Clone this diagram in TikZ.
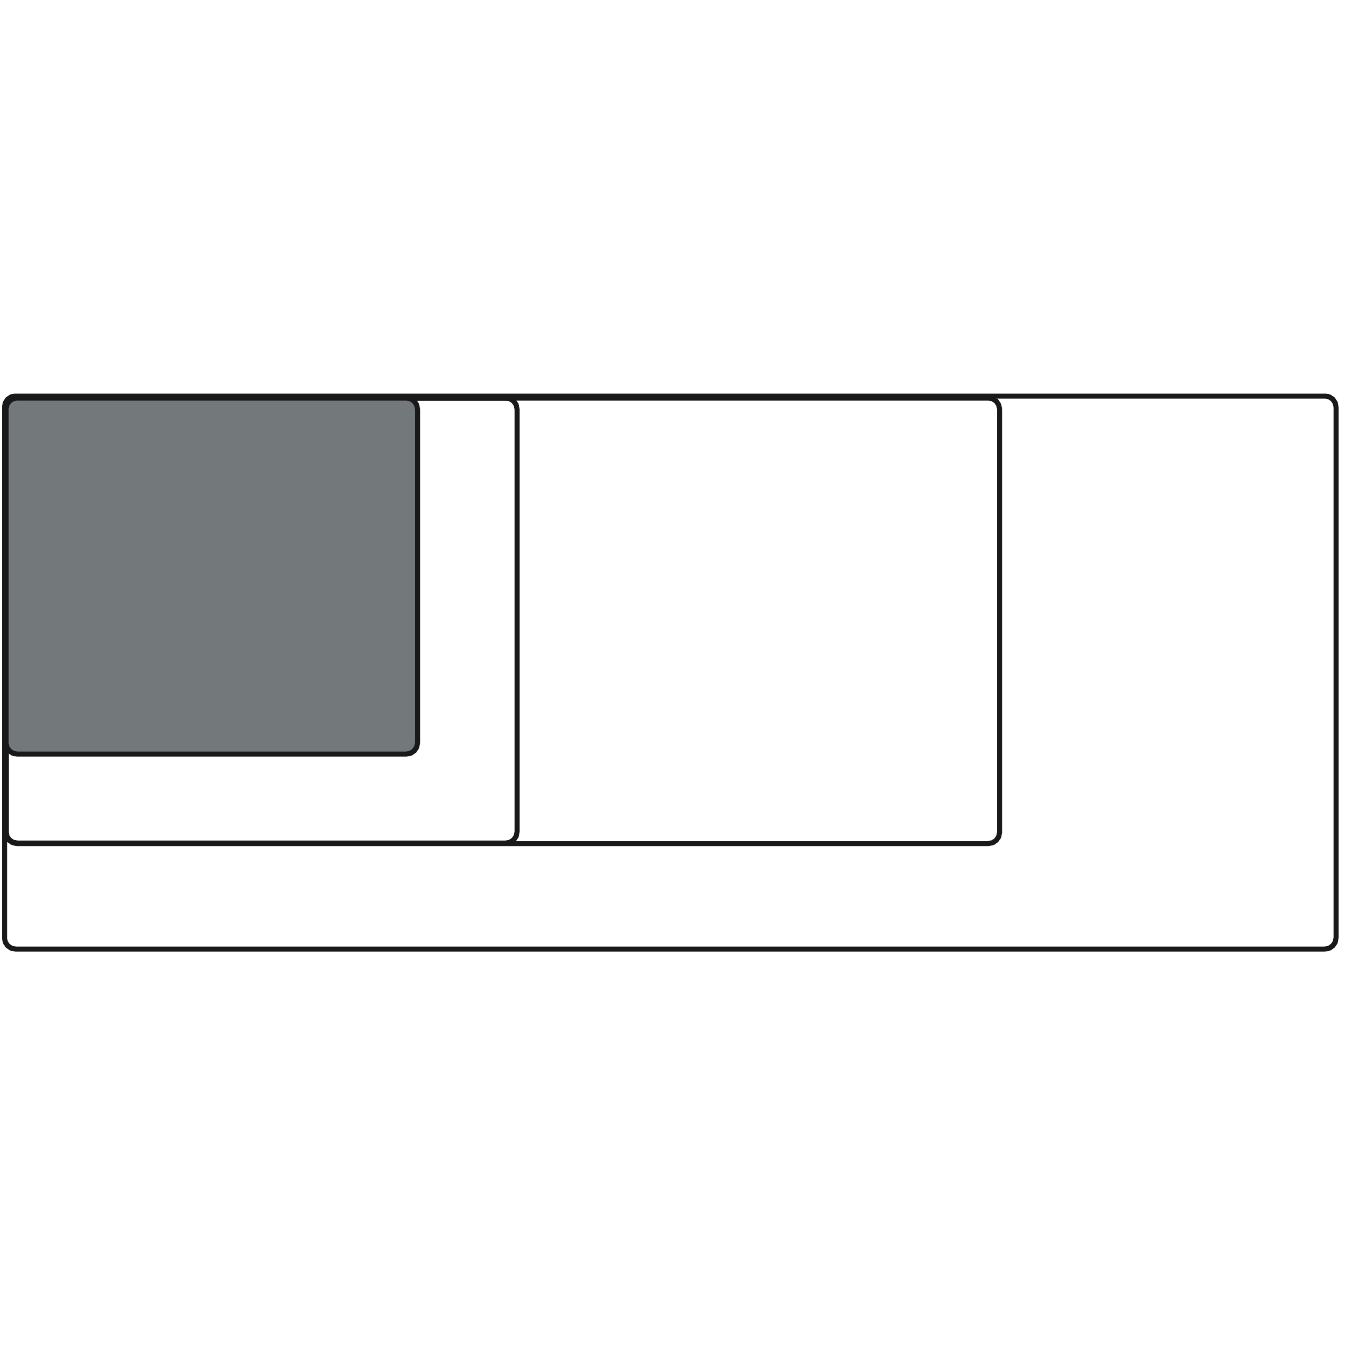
\documentclass[tikz,border=0pt]{standalone}
\begin{document}
\begin{tikzpicture}[x=1pt,y=-1pt,
  box/.style={draw=black!90,line width=5pt,rounded corners=11pt}]
\useasboundingbox (0,0) rectangle (1345,1345);
\fill[white] (0,0) rectangle (1345,1345);
\definecolor{slate}{HTML}{73787B}
\draw[box] (4.5,396) rectangle (1336,949);
\draw[box] (6,398) rectangle (999.5,843.5);
\draw[box] (6,398) rectangle (517,843);
\draw[box,fill=slate] (6,398) rectangle (417.5,754);
\end{tikzpicture}
\end{document}
